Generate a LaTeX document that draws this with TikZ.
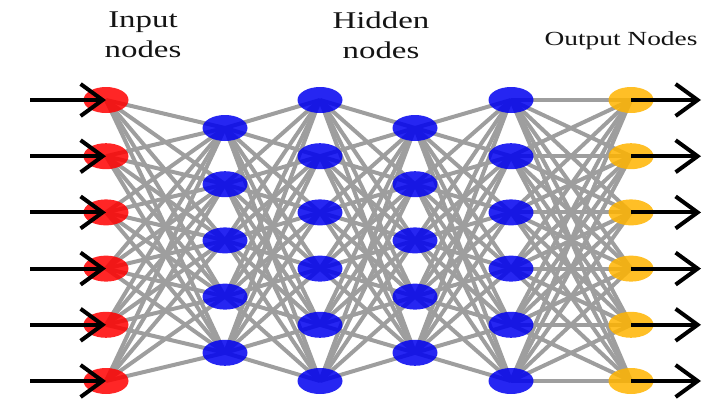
\documentclass[tikz,border=0pt]{standalone}
\usepackage{fontspec}
\setmainfont{Liberation Serif}
\usetikzlibrary{arrows.meta, shapes.geometric, backgrounds}
\definecolor{inred}{HTML}{FF0000}
\definecolor{hidblue}{HTML}{0000F0}
\definecolor{outamber}{HTML}{FFB400}
\definecolor{linkgray}{HTML}{9E9E9E}
\definecolor{darktext}{HTML}{141414}
\tikzset{
    neuron/.style={ellipse, minimum width=45pt, minimum height=26pt, inner sep=0pt, fill opacity=0.85},
    link/.style={draw=linkgray, line width=4pt},
    signal/.style={draw=black, line width=4pt, -{Straight Barb[length=22pt, width=32pt]}},
    layertitle/.style={font=\fontsize{24}{30}\selectfont, text=darktext, align=center, inner sep=0pt,
          xscale=1.37, transform shape}
}

\begin{document}
\begin{tikzpicture}[x=1pt, y=-1pt]
    \useasboundingbox (0,0) rectangle (703,407);
    % layers: input, four hidden, output
    \foreach \i in {1,...,6} {
        \node[neuron, fill=inred] (in-\i) at (106, 100+56.2*\i-56.2) {};
        \node[neuron, fill=hidblue] (hb-\i) at (320, 100+56.2*\i-56.2) {};
        \node[neuron, fill=hidblue] (hd-\i) at (511, 100+56.2*\i-56.2) {};
        \node[neuron, fill=outamber] (out-\i) at (631, 100+56.2*\i-56.2) {};
        \coordinate (src-\i) at (30, 100+56.2*\i-56.2);
        \coordinate (dst-\i) at (701, 100+56.2*\i-56.2);
    }
    \foreach \j in {1,...,5} {
        \node[neuron, fill=hidblue] (ha-\j) at (225, 128+56.2*\j-56.2) {};
        \node[neuron, fill=hidblue] (hc-\j) at (415, 128+56.2*\j-56.2) {};
    }
    % weights, behind the nodes
    \begin{scope}[on background layer]
    \foreach \i in {1,...,6} {
        \foreach \j in {1,...,5} {
            \path[link] (in-\i.center) -- (ha-\j.center);
            \path[link] (ha-\j.center) -- (hb-\i.center);
            \path[link] (hb-\i.center) -- (hc-\j.center);
            \path[link] (hc-\j.center) -- (hd-\i.center);
        }
        \foreach \k in {1,...,6} {
            \path[link] (hd-\i.center) -- (out-\k.center);
        }
    }
    \end{scope}
    % inputs and outputs
    \foreach \i in {1,...,6} {
        \draw[signal] (src-\i) -- (in-\i.center);
        \draw[signal] (out-\i.center) -- (dst-\i);
    }
    % titles
    \node[layertitle, anchor=north] (inlabel) at (143,12) {Input\\nodes};
    \node[layertitle, anchor=north] (hidlabel) at (381,12) {Hidden\\nodes};
    \node[layertitle, font=\fontsize{20}{24}\selectfont, anchor=base] (outlabel) at (621,45) {Output Nodes};
\end{tikzpicture}
\end{document}
